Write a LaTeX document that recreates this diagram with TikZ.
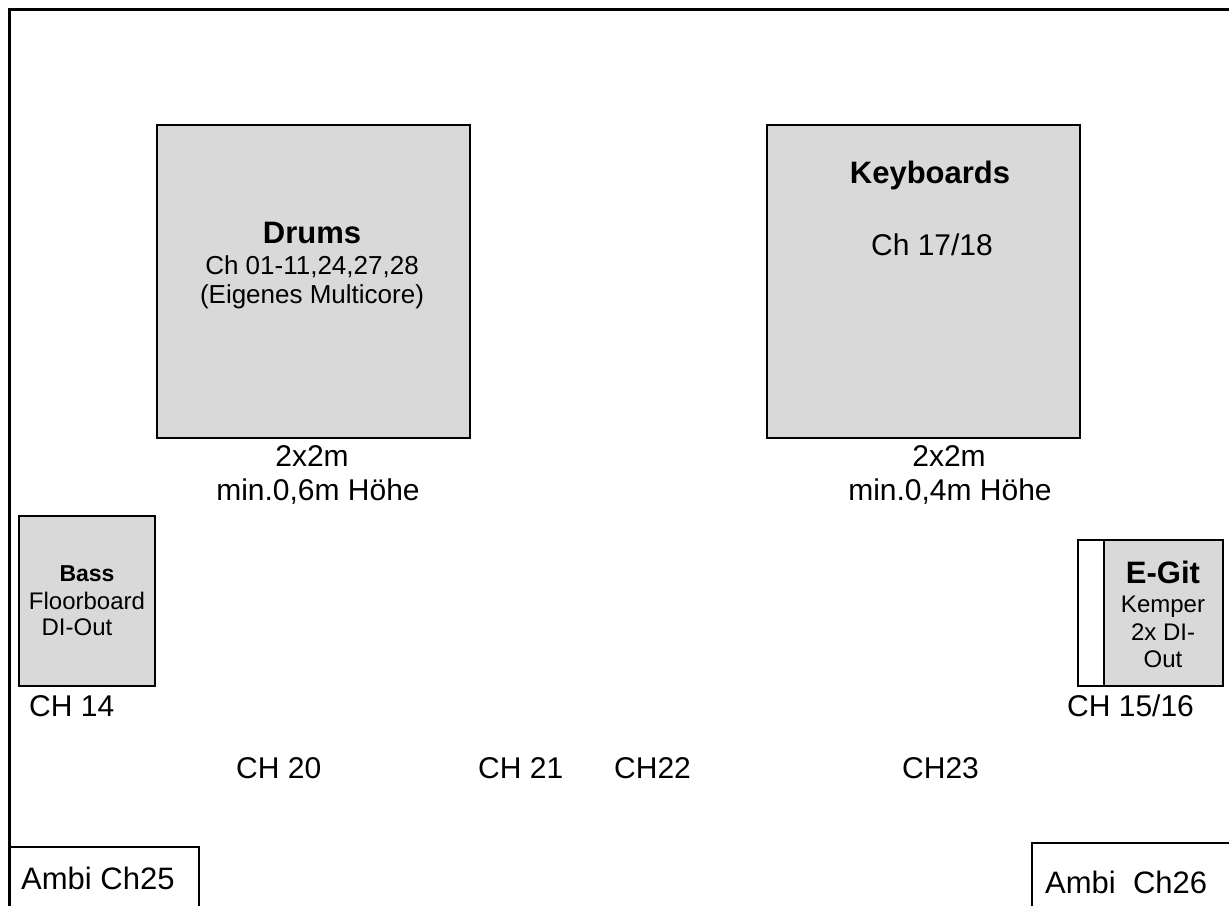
\documentclass[tikz,border=0pt]{standalone}
\usepackage{fontspec}
\setmainfont{Liberation Sans}
\begin{document}
\begin{tikzpicture}[x=1pt,y=-1pt,
  box/.style={draw=black,line width=2.4pt,fill=boxgray,inner sep=0pt,anchor=north west},
  wbox/.style={draw=black,line width=2.4pt,fill=white,inner sep=0pt,anchor=north west},
  lbl/.style={inner sep=0pt,anchor=base,text=black},
  lblw/.style={inner sep=0pt,anchor=base west,text=black},
  big/.style={font=\fontsize{30}{34}\selectfont},
  mid/.style={font=\fontsize{26}{29}\selectfont},
  sml/.style={font=\fontsize{24}{27}\selectfont},
  bigb/.style={font=\fontsize{31}{34}\selectfont\bfseries},
  smlb/.style={font=\fontsize{23}{27}\selectfont\bfseries},
  amb/.style={font=\fontsize{31}{34}\selectfont},
  frame/.style={draw=black,line width=2.4pt}]
\definecolor{boxgray}{HTML}{D9D9D9}
\useasboundingbox (0,0) rectangle (1229,906);
\fill[white] (0,0) rectangle (1229,906);
% outer frame
\coordinate (fbl) at (9.5,906);
\coordinate (ftl) at (9.5,9.5);
\coordinate (ftr) at (1229,9.5);
\draw[frame] (fbl) -- (ftl) -- (ftr);
% Drums
\node[box,minimum width=313pt,minimum height=313pt] (drums) at (156,124) {};
\node[lbl,bigb] (drumsT) at (312,243) {Drums};
\node[lbl,mid] (drumsC) at (312,274) {Ch 01-11,24,27,28};
\node[lbl,mid] (drumsM) at (312,303) {(Eigenes Multicore)};
\node[lbl,big] (drumsS) at (312,466) {2x2m};
\node[lbl,big] (drumsH) at (318,500) {min.0,6m Höhe};
% Keyboards
\node[box,minimum width=313pt,minimum height=313pt] (keys) at (766,124) {};
\node[lbl,bigb] (keysT) at (930,183) {Keyboards};
\node[lbl,big] (keysC) at (932,255) {Ch 17/18};
\node[lbl,big] (keysS) at (949,466) {2x2m};
\node[lbl,big] (keysH) at (950,500) {min.0,4m Höhe};
% Bass
\node[box,minimum width=136pt,minimum height=170pt] (bass) at (18,515) {};
\node[lbl,smlb] (bassT) at (87,581) {Bass};
\node[lbl,sml] (bassF) at (87,609) {Floorboard};
\node[lbl,sml] (bassD) at (77,635) {DI-Out};
\node[lblw,big] (ch14) at (29,716) {CH 14};
% E-Git
\node[wbox,minimum width=145pt,minimum height=146pt] (egit) at (1077,539) {};
\node[box,minimum width=119pt,minimum height=146pt] (egitg) at (1103,539) {};
\node[lbl,bigb] (egitT) at (1163,583) {E-Git};
\node[lbl,sml] (egitK) at (1163,612) {Kemper};
\node[lbl,sml] (egitD) at (1163,640) {2x DI-};
\node[lbl,sml] (egitO) at (1163,667) {Out};
\node[lblw,big] (ch1516) at (1067,716) {CH 15/16};
% floor channels
\node[lblw,big] (ch20) at (236,778) {CH 20};
\node[lblw,big] (ch21) at (478,778) {CH 21};
\node[lblw,big] (ch22) at (614,778) {CH22};
\node[lblw,big] (ch23) at (902,778) {CH23};
% Ambi
\coordinate (a25bl) at (9.5,906);
\coordinate (a25tr) at (199,847);
\coordinate (a25br) at (199,906);
\draw[frame] (a25bl) |- (a25tr) -- (a25br);
\node[lblw,amb] (a25) at (21,889) {Ambi Ch25};
\coordinate (a26bl) at (1032,906);
\coordinate (a26tr) at (1229,843);
\draw[frame] (a26bl) |- (a26tr);
\node[lblw,amb] (a26) at (1045,893) {Ambi\ \ Ch26};
\end{tikzpicture}
\end{document}
